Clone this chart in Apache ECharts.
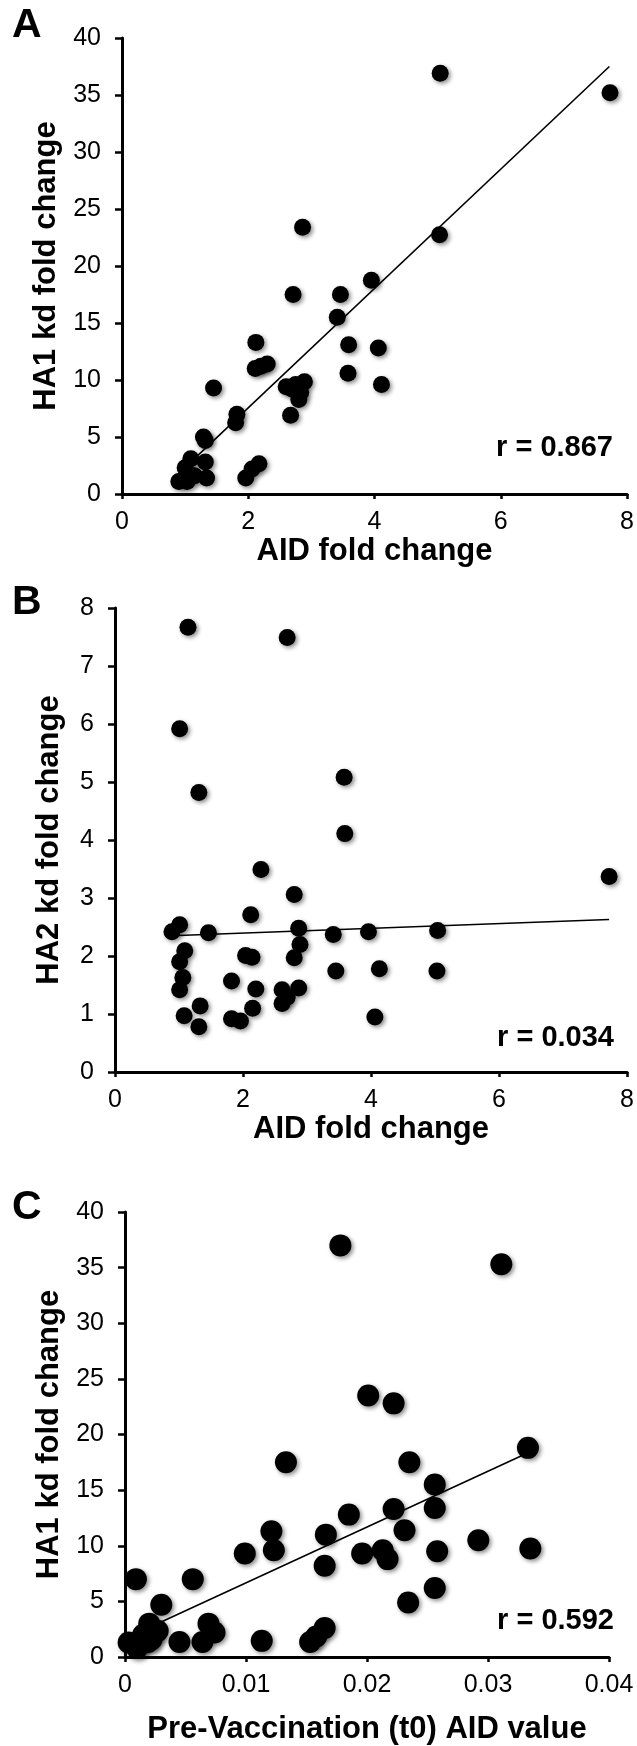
<!DOCTYPE html>
<html>
<head>
<meta charset="utf-8">
<script src="https://cdn.jsdelivr.net/npm/echarts@6/dist/echarts.min.js"></script>
<style>
  html, body { margin: 0; padding: 0; background: #fff; }
  #chart { width: 637px; height: 1746px; }
</style>
</head>
<body>
<div id="chart"></div>
<script>
// Panel A: AID fold change vs HA1 kd fold change
const aidFoldA = [5.04, 7.73, 2.86, 5.03, 3.95, 2.71, 3.46, 3.41, 2.12, 3.59, 4.06, 2.11, 2.2, 2.3,
  3.58, 4.11, 1.45, 2.6, 2.89, 2.83, 2.8, 2.7, 2.67, 1.82, 1.8, 1.29, 1.32, 1.09, 1.32, 1.0,
  1.34, 0.9, 1.03, 1.96, 2.06, 2.17, 2.75, 1.15];
const ha1FoldA = [36.9, 35.2, 23.4, 22.75, 18.75, 17.5, 17.5, 15.5, 13.3, 13.1, 12.8, 11.0, 11.2, 11.4,
  10.6, 9.6, 9.3, 9.4, 9.85, 8.9, 8.3, 9.2, 6.9, 7.0, 6.25, 5.0, 4.7, 3.1, 2.8, 2.3,
  1.4, 1.1, 1.1, 1.4, 2.2, 2.65, 9.6, 1.6];
const trendA = [[0.88, 1.7], [7.72, 37.5]];

// Panel B: AID fold change vs HA2 kd fold change
const aidFoldB = [1.14, 2.69, 1.01, 1.31, 3.58, 3.59, 2.28, 7.72, 2.80, 2.12, 0.89, 1.01, 1.46, 2.87,
  3.41, 3.96, 5.04, 1.09, 1.01, 1.06, 1.01, 2.04, 2.14, 2.80, 2.89, 1.82, 2.20, 2.61, 2.69,
  2.87, 2.61, 3.45, 4.13, 5.03, 1.33, 1.08, 1.31, 1.82, 1.96, 2.15, 4.06];
const ha2FoldB = [7.67, 7.49, 5.92, 4.82, 5.08, 4.11, 3.49, 3.37, 3.06, 2.71, 2.42, 2.54, 2.40, 2.48,
  2.37, 2.42, 2.44, 2.09, 1.90, 1.63, 1.42, 2.01, 1.98, 1.97, 2.20, 1.57, 1.43, 1.42, 1.29,
  1.45, 1.18, 1.74, 1.78, 1.74, 1.14, 0.97, 0.78, 0.92, 0.88, 1.10, 0.95];
const trendB = [[0.88, 2.35], [7.72, 2.63]];

// Panel C: pre-vaccination (t0) AID value vs HA1 kd fold change
const aidT0C = [0.0178, 0.0311, 0.0201, 0.0222, 0.0333, 0.0133, 0.0235, 0.0256, 0.0185, 0.0222,
  0.0256, 0.0121, 0.0166, 0.0231, 0.0292, 0.0099, 0.0123, 0.0196, 0.0213, 0.0217, 0.0258,
  0.0335, 0.0165, 0.0009, 0.0056, 0.0256, 0.0234, 0.0030, 0.0020, 0.0027, 0.0069, 0.0074,
  0.0165, 0.0158, 0.0153, 0.0113, 0.0045, 0.0064, 0.0003, 0.0012, 0.0019, 0.0010, 0.0022, 0.0015];
const ha1FoldC = [37.0, 35.3, 23.5, 22.8, 18.8, 17.5, 17.5, 15.5, 12.8, 13.3,
  13.4, 11.3, 11.0, 11.4, 10.5, 9.3, 9.6, 9.3, 9.6, 8.8, 9.5,
  9.75, 8.2, 7.0, 7.0, 6.2, 4.9, 4.7, 3.0, 2.35, 3.0, 2.2,
  2.6, 1.85, 1.35, 1.45, 1.35, 1.35, 1.3, 1.2, 1.35, 0.8, 1.6, 2.0];
const trendC = [[0.0007, 2.0], [0.0334, 18.4]];

const FONT = 'Liberation Sans, Arial, Helvetica, sans-serif';
const zip = (xs, ys) => xs.map((x, i) => [x, ys[i]]);

function axisCommon() {
  return {
    type: 'value',
    splitLine: { show: false },
    axisLine: { show: true, lineStyle: { color: '#000', width: 3 } },
    axisLabel: { color: '#000', fontSize: 25, fontFamily: FONT },
    nameTextStyle: { color: '#000', fontSize: 31, fontWeight: 'bold', fontFamily: FONT },
    nameLocation: 'middle'
  };
}
function xAxis(grid, min, max, interval, name, gap) {
  const a = axisCommon();
  return Object.assign(a, {
    gridIndex: grid, min, max, interval, name, nameGap: gap,
    axisTick: { show: true, length: 5, lineStyle: { color: '#000', width: 2.5 } },
    axisLabel: Object.assign(a.axisLabel, { margin: 16 })
  });
}
function yAxis(grid, min, max, interval, name, gap) {
  const a = axisCommon();
  return Object.assign(a, {
    gridIndex: grid, min, max, interval, name, nameGap: gap,
    axisTick: { show: true, length: 7, lineStyle: { color: '#000', width: 2.5 } },
    axisLabel: Object.assign(a.axisLabel, { margin: 21 })
  });
}
const dotStyle = {
  color: '#000', opacity: 1,
  shadowColor: 'rgba(0,0,0,0.45)', shadowBlur: 4, shadowOffsetX: 2, shadowOffsetY: 2
};
function dots(i, data, size) {
  return { type: 'scatter', xAxisIndex: i, yAxisIndex: i, data, symbolSize: size,
    itemStyle: dotStyle, z: 3, silent: true };
}
function trend(i, data) {
  return { type: 'line', xAxisIndex: i, yAxisIndex: i, data, symbol: 'none',
    lineStyle: { color: '#000', width: 1.6 }, z: 4, silent: true };
}
function label(text, x, y, size, align) {
  return { type: 'text', x, y, style: { text, fill: '#000', font: 'bold ' + size + 'px ' + FONT,
    textAlign: align, textVerticalAlign: 'middle' } };
}

const chart = echarts.init(document.getElementById('chart'), null, { renderer: 'canvas' });
chart.setOption({
  animation: false,
  backgroundColor: '#fff',
  grid: [
    { left: 122, right: 9, top: 38, height: 456 },
    { left: 115, right: 9, top: 608, height: 464 },
    { left: 125, right: 28, top: 1212, height: 446 }
  ],
  xAxis: [
    xAxis(0, 0, 8, 2, 'AID fold change', 42),
    xAxis(1, 0, 8, 2, 'AID fold change', 42),
    xAxis(2, 0, 0.04, 0.01, 'Pre-Vaccination (t0) AID value', 57)
  ],
  yAxis: [
    yAxis(0, 0, 40, 5, 'HA1 kd fold change', 57),
    yAxis(1, 0, 8, 1, 'HA2 kd fold change', 50),
    yAxis(2, 0, 40, 5, 'HA1 kd fold change', 60)
  ],
  series: [
    dots(0, zip(aidFoldA, ha1FoldA), 17), trend(0, trendA),
    dots(1, zip(aidFoldB, ha2FoldB), 17), trend(1, trendB),
    dots(2, zip(aidT0C, ha1FoldC), 22), trend(2, trendC)
  ],
  graphic: [
    label('A', 12, 26, 41, 'left'),
    label('B', 12, 603, 41, 'left'),
    label('C', 12, 1208, 41, 'left'),
    label('r = 0.867', 613, 448, 29, 'right'),
    label('r = 0.034', 614, 1038, 29, 'right'),
    label('r = 0.592', 614, 1621, 29, 'right')
  ]
});
</script>
</body>
</html>
